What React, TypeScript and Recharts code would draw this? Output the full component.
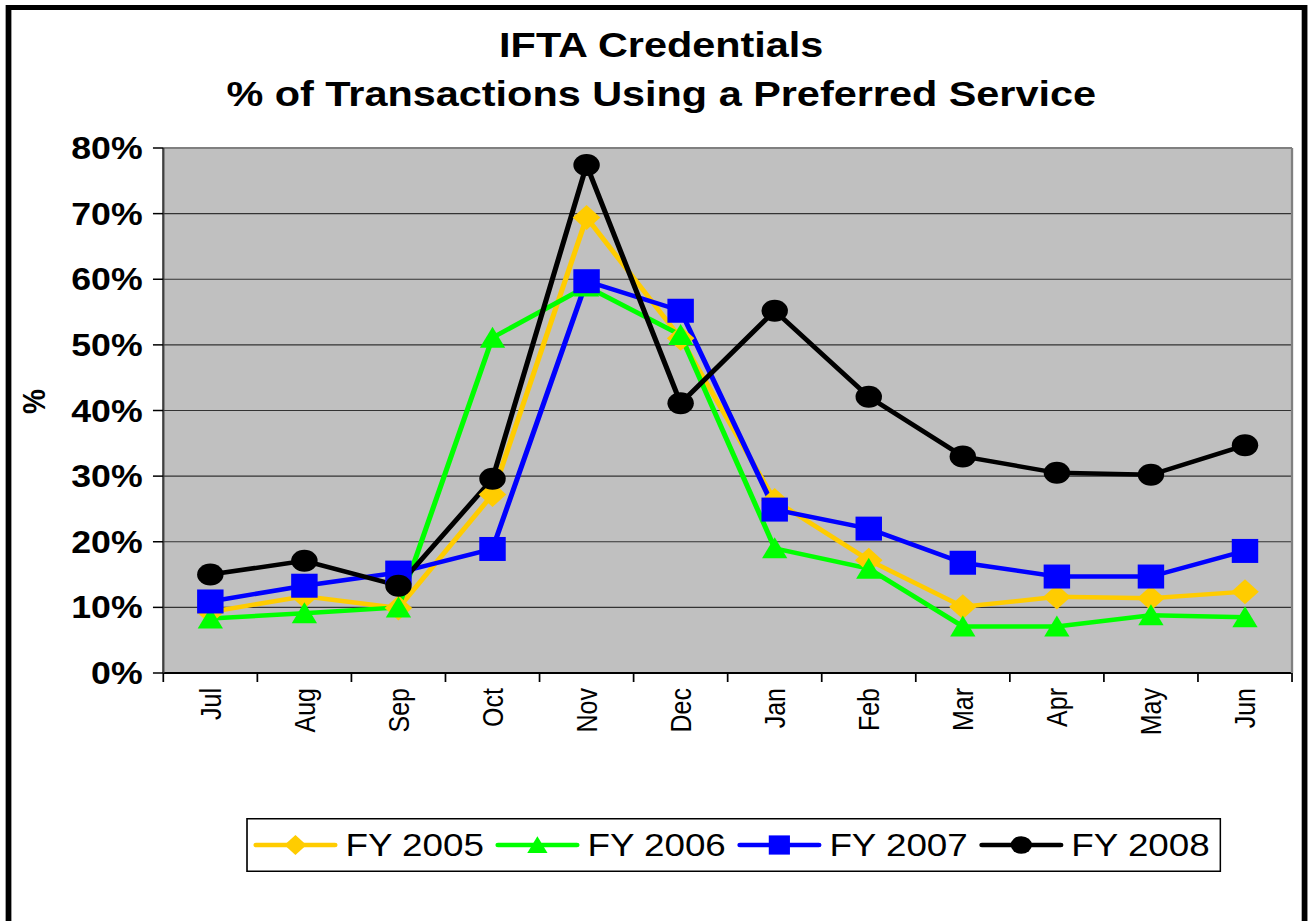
import React from 'react';
import { CartesianGrid, Legend, Line, LineChart, ReferenceLine, XAxis, YAxis } from 'recharts';

const months = ['Jul', 'Aug', 'Sep', 'Oct', 'Nov', 'Dec', 'Jan', 'Feb', 'Mar', 'Apr', 'May', 'Jun'];
const fy2005 = [9.3, 11.7, 9.9, 27.2, 69.4, 51.0, 26.3, 17.2, 10.1, 11.6, 11.4, 12.4];
const fy2006 = [8.3, 9.1, 10.0, 51.1, 58.9, 51.5, 19.0, 15.9, 7.1, 7.1, 8.8, 8.5];
const fy2007 = [10.9, 13.3, 15.3, 18.9, 59.7, 55.2, 24.9, 22.0, 16.8, 14.7, 14.7, 18.6];
const fy2008 = [15.0, 17.1, 13.3, 29.6, 77.4, 41.1, 55.2, 42.1, 33.0, 30.5, 30.2, 34.7];
const yTicks = [0, 10, 20, 30, 40, 50, 60, 70, 80];

const seriesList = [
  { key: 'fy2005', name: 'FY 2005', color: '#FFCC00', shape: 'diamond' },
  { key: 'fy2006', name: 'FY 2006', color: '#00FF00', shape: 'triangle' },
  { key: 'fy2007', name: 'FY 2007', color: '#0000FF', shape: 'square' },
  { key: 'fy2008', name: 'FY 2008', color: '#000000', shape: 'circle' },
];

const rows = months.map((month, i) => ({
  month,
  fy2005: fy2005[i],
  fy2006: fy2006[i],
  fy2007: fy2007[i],
  fy2008: fy2008[i],
}));

// the reference is a bit wider than it is tall, so the chart is drawn narrow and stretched
const STRETCH = 1.15;
const W = 1139;
const H = 921;
const FONT = '"Liberation Sans", Arial, Helvetica, sans-serif';

function Marker({ shape, cx, cy, color, k = 1 }: any) {
  if (cx == null || cy == null) return null;
  if (shape === 'diamond') {
    return (
      <polygon
        points={`${cx},${cy - 12.5 * k} ${cx + 12 * k},${cy} ${cx},${cy + 12.5 * k} ${cx - 12 * k},${cy}`}
        fill={color}
      />
    );
  }
  if (shape === 'triangle') {
    return (
      <polygon
        points={`${cx},${cy - 11 * k} ${cx + 11 * k},${cy + 10 * k} ${cx - 11 * k},${cy + 10 * k}`}
        fill={color}
      />
    );
  }
  if (shape === 'square') {
    return <rect x={cx - 11.5 * k} y={cy - 12 * k} width={23 * k} height={24 * k} fill={color} />;
  }
  return <ellipse cx={cx} cy={cy} rx={11.5 * k} ry={11 * k} fill={color} />;
}

function MonthTick(props: any) {
  const { x, y, payload, index, visibleTicksCount } = props;
  const half = payload?.offset || 41;
  const last = index === visibleTicksCount - 1;
  return (
    <g>
      <line x1={x - half} x2={x - half} y1={y} y2={y + 9} stroke="#000" strokeWidth={1.5} />
      {last ? <line x1={x + half} x2={x + half} y1={y} y2={y + 9} stroke="#000" strokeWidth={1.5} /> : null}
      <text
        transform={`translate(${x + 9},${y + 15}) rotate(-90)`}
        textAnchor="end"
        fontSize={25}
        fontFamily={FONT}
        fill="#000"
      >
        {payload.value}
      </text>
    </g>
  );
}

function PercentLabel(props: any) {
  const vb = props.viewBox || {};
  const cy = (vb.y ?? 148) + (vb.height ?? 525) / 2 - 9;
  return (
    <text
      transform={`translate(39,${cy}) rotate(-90)`}
      textAnchor="middle"
      fontSize={28}
      fontWeight="bold"
      fontFamily={FONT}
      fill="#000"
    >
      %
    </text>
  );
}

function LegendBox() {
  return (
    <svg width={848} height={54} style={{ display: 'block' }}>
      <rect x={0.75} y={0.75} width={846.5} height={52.5} fill="#fff" stroke="#000" strokeWidth={1.5} />
      {seriesList.map((s, i) => {
        const x0 = 8.6 + i * 210.4;
        return (
          <g key={s.key}>
            <line x1={x0} x2={x0 + 68.7} y1={27} y2={27} stroke={s.color} strokeWidth={4.5} strokeLinecap="round" />
            <Marker shape={s.shape} cx={x0 + 34.3} cy={27} color={s.color} k={0.8} />
            <text x={x0 + 77.8} y={38.5} fontSize={32} fontFamily={FONT} fill="#000">
              {s.name}
            </text>
          </g>
        );
      })}
    </svg>
  );
}

export default function App() {
  return (
    <div
      style={{
        position: 'absolute',
        left: 0,
        top: 0,
        width: W,
        height: H,
        background: '#fff',
        transform: `scaleX(${STRETCH})`,
        transformOrigin: '0 0',
      }}
    >
      <LineChart width={W} height={H} data={rows} margin={{ top: 148, right: 14.5, bottom: 148, left: 0 }}>
        <CartesianGrid vertical={false} stroke="#333" strokeWidth={1.2} fill="#C0C0C0" />
        <XAxis
          dataKey="month"
          scale="band"
          interval={0}
          tickSize={0}
          tickMargin={0}
          tickLine={false}
          tick={<MonthTick />}
          axisLine={{ stroke: '#000', strokeWidth: 2 }}
          height={100}
        />
        <YAxis
          domain={[0, 80]}
          ticks={yTicks}
          interval={0}
          tickFormatter={(v) => `${v}%`}
          width={142}
          tickSize={9}
          tickMargin={9}
          tick={{ fontSize: 31, fontWeight: 'bold', fill: '#000', fontFamily: FONT }}
          tickLine={{ stroke: '#000', strokeWidth: 1.5 }}
          axisLine={{ stroke: '#404040', strokeWidth: 2 }}
          label={<PercentLabel />}
        />
        <YAxis
          yAxisId="right"
          orientation="right"
          domain={[0, 80]}
          width={1}
          tick={false}
          tickLine={false}
          axisLine={{ stroke: '#808080', strokeWidth: 2 }}
        />
        <ReferenceLine y={80} stroke="#808080" strokeWidth={2} />
        <Legend
          layout="horizontal"
          verticalAlign="middle"
          align="center"
          content={() => <LegendBox />}
          wrapperStyle={{ left: 214, top: 818, width: 848, height: 54 }}
        />
        {seriesList.map((s) => (
          <Line
            key={s.key}
            type="linear"
            dataKey={s.key}
            name={s.name}
            stroke={s.color}
            strokeWidth={4.5}
            dot={(p: any) => <Marker key={`${s.key}-${p.index}`} shape={s.shape} cx={p.cx} cy={p.cy} color={s.color} />}
            activeDot={false}
            isAnimationActive={false}
          />
        ))}
      </LineChart>
      <svg
        width={W}
        height={H}
        style={{ position: 'absolute', left: 0, top: 0, pointerEvents: 'none' }}
      >
        <rect x={7.4} y={7.5} width={1127} height={930} fill="none" stroke="#000" strokeWidth={5} />
        <text x={575} y={57} textAnchor="middle" fontSize={36} fontWeight="bold" fontFamily={FONT} fill="#000">
          IFTA Credentials
        </text>
        <text x={575} y={106} textAnchor="middle" fontSize={36} fontWeight="bold" fontFamily={FONT} fill="#000">
          % of Transactions Using a Preferred Service
        </text>
      </svg>
    </div>
  );
}
